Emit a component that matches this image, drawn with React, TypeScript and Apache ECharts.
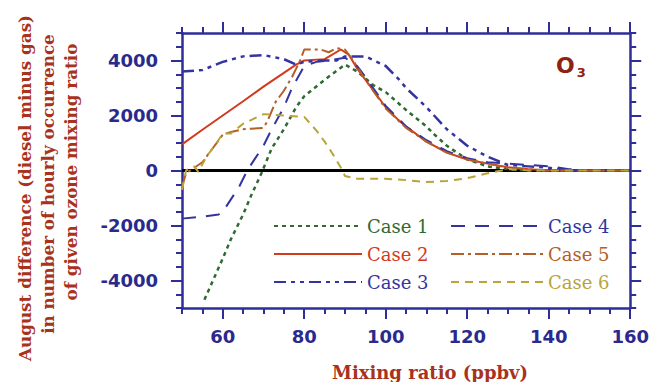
import React, { useEffect, useRef } from "react";
import * as echarts from "echarts";

const xRange = [50, 160];
const yRange = [-5000, 5000];
const xLabelValues = [60, 80, 100, 120, 140, 160];
const yLabelValues = [-4000, -2000, 0, 2000, 4000];

const caseNames = ["Case 1", "Case 2", "Case 3", "Case 4", "Case 5", "Case 6"];

const case1 = [[55.5,-4700],[57,-4200],[60,-3200],[62,-2500],[65,-1600],[67,-900],[69.5,-100],[72,800],[75,1500],[78,2300],[80,2700],[85,3300],[90,3850],[93,3600],[97,3100],[100,2850],[105,2200],[110,1600],[112,1300],[115,900],[120,400],[125,150],[130,50],[135,0],[160,0]];
const case2 = [[50,950],[55,1480],[60,2000],[65,2520],[70,3050],[75,3550],[78,3850],[80,4000],[85,4050],[89,4400],[91,4200],[93,3700],[95,3300],[98,2700],[100,2300],[103,1850],[105,1600],[110,1050],[115,650],[120,400],[125,250],[130,120],[135,50],[140,0],[160,0]];
const case3 = [[50,3600],[55,3650],[60,3950],[65,4150],[70,4200],[75,4050],[78,3850],[80,3950],[85,4000],[88,4000],[90,4150],[95,4150],[100,3800],[103,3350],[105,3000],[110,2300],[115,1500],[120,900],[125,500],[130,200],[135,150],[140,100],[145,0],[160,0]];
const case4 = [[50,-1750],[55,-1680],[59,-1600],[60,-1500],[62,-1050],[64,-600],[66,0],[68,450],[70,900],[72,1500],[75,2300],[77,3000],[80,3800],[83,3950],[86,4000],[90,4100],[93,3800],[95,3400],[100,2350],[105,1600],[110,1100],[115,700],[120,450],[125,300],[130,250],[135,200],[140,150],[145,50],[150,0],[160,0]];
const case5 = [[50,-600],[51,-100],[53,100],[55,300],[56,500],[58,900],[60,1300],[62,1400],[65,1500],[70,1550],[71,1800],[73,2500],[75,2900],[77,3400],[79,4000],[80,4400],[84,4400],[86,4300],[88,4450],[90,4400],[92,4000],[95,3300],[100,2250],[105,1550],[110,1050],[115,650],[120,400],[125,250],[130,100],[140,0],[160,0]];
const case6 = [[50,-700],[51,0],[53,150],[54,-50],[56,500],[58.5,1000],[60,1350],[62,1350],[65,1700],[70,2050],[75,2000],[80,1950],[83,1450],[85,1050],[87,600],[89,100],[90,-200],[93,-300],[100,-300],[105,-350],[110,-420],[115,-380],[120,-280],[125,-100],[130,50],[135,0],[160,0]];
const zeroLine = [[50, 0], [160, 0]];

const caseData = [case1, case2, case3, case4, case5, case6];
const caseColors = ["#2f6a33", "#d23a1e", "#3434a0", "#3434a0", "#b55e26", "#b8a43a"];
const caseDash: any[] = [[4, 4], "solid", [12, 5, 4, 5, 4, 5], [14, 10], [13, 4, 3, 4], [8, 6]];
const caseWidth = [2.5, 2, 2.5, 2, 2, 2];

const yTitleLines = ["August difference (diesel minus gas)", "in number of hourly occurrence", "of given ozone mixing ratio"];
const xTitle = "Mixing ratio (ppbv)";

const AXIS = "#2e2e98";
const LABEL = "#2a2a8e";
const TITLE = "#a8321c";

function ticksEvery(step: number, lo: number, hi: number) {
  const out: number[] = [];
  for (let v = lo; v <= hi + 1e-9; v += step) out.push(v);
  return out;
}

export default function App() {
  const ref = useRef<HTMLDivElement>(null);
  useEffect(() => {
    if (!ref.current) return;
    const chart = echarts.init(ref.current, null, { renderer: "svg" });
    const labelFont = { fontFamily: "DejaVu Sans", fontWeight: "bold" as const, fontSize: 18, color: LABEL };
    const plain = (v: number) => String(v);
    const minorX = ticksEvery(5, 50, 160);
    const minorY = ticksEvery(500, -5000, 5000);
    const mkX = (position: string, major: boolean, showLine: boolean, showLabel: boolean) => ({
      type: "value", position, min: xRange[0], max: xRange[1], interval: 10,
      axisLine: { show: showLine, onZero: false, lineStyle: { color: AXIS, width: 2.5 } },
      axisTick: { show: true, inside: false, length: major ? 11 : 6, customValues: major ? xLabelValues : minorX, lineStyle: { color: AXIS, width: 2 } },
      axisLabel: { show: showLabel, customValues: xLabelValues, margin: 19, formatter: plain, ...labelFont },
      splitLine: { show: false },
    });
    const mkY = (position: string, major: boolean, showLine: boolean, showLabel: boolean) => ({
      type: "value", position, min: yRange[0], max: yRange[1], interval: 500,
      axisLine: { show: showLine, onZero: false, lineStyle: { color: AXIS, width: 2.5 } },
      axisTick: { show: true, inside: false, length: major ? 11 : 6, customValues: major ? yLabelValues : minorY, lineStyle: { color: AXIS, width: 2 } },
      axisLabel: { show: showLabel, customValues: yLabelValues, margin: 24, formatter: plain, ...labelFont },
      splitLine: { show: false },
    });
    const series: any[] = [
      {
        type: "line", name: "zero", data: zeroLine, xAxisIndex: 0, yAxisIndex: 0,
        symbol: "none", silent: true, z: 1,
        lineStyle: { color: "#000", width: 3 },
      },
      ...caseNames.map((name, i) => ({
        type: "line", name, data: caseData[i], xAxisIndex: 0, yAxisIndex: 0,
        symbol: "none", showSymbol: false, z: 3,
        itemStyle: { color: caseColors[i] },
        lineStyle: { color: caseColors[i], width: caseWidth[i], type: caseDash[i] },
      })),
    ];
    const legendBase = {
      orient: "vertical", itemGap: 10, itemHeight: 14,
      itemStyle: { color: "transparent", borderWidth: 0, opacity: 0 },
      textStyle: { fontFamily: "DejaVu Serif", fontSize: 18, lineHeight: 18 },
      selectedMode: false,
    };
    const yTitleCenters = [188, 184, 172];
    chart.setOption({
      animation: false,
      backgroundColor: "#fff",
      grid: { left: 182, right: 18, top: 33, bottom: 74 },
      xAxis: [mkX("bottom", false, true, true), mkX("bottom", true, false, false), mkX("top", false, true, false), mkX("top", true, false, false)],
      yAxis: [mkY("left", false, true, true), mkY("left", true, false, false), mkY("right", false, true, false), mkY("right", true, false, false)],
      legend: [
        { ...legendBase, left: 268, top: 212, itemWidth: 88,
          data: caseNames.slice(0, 3).map((n, i) => ({ name: n, textStyle: { color: caseColors[i] } })) },
        { ...legendBase, left: 445, top: 212, itemWidth: 92,
          data: caseNames.slice(3).map((n, i) => ({ name: n, textStyle: { color: caseColors[i + 3] } })) },
      ],
      graphic: [
        {
          type: "text", x: 430, y: 372,
          style: { text: xTitle, fill: TITLE, font: "bold 18px 'DejaVu Serif'", textAlign: "center", textVerticalAlign: "middle" },
        },
        ...yTitleLines.map((t, i) => ({
          type: "text", x: 25 + i * 23, y: yTitleCenters[i], rotation: Math.PI / 2,
          style: { text: t, fill: TITLE, font: "bold 16.8px 'DejaVu Serif'", textAlign: "center", textVerticalAlign: "middle" },
        })),
        {
          type: "text", x: 556, y: 52,
          style: {
            text: "{a|O}{b|3}",
            rich: {
              a: { fontFamily: "DejaVu Sans", fontSize: 22, fontWeight: "bold", fill: "#8e2014", color: "#8e2014" },
              b: { fontFamily: "DejaVu Sans", fontSize: 13, fontWeight: "bold", fill: "#8e2014", color: "#8e2014", padding: [14, 0, 0, 2] },
            },
          },
        },
      ],
      series,
    });
    return () => chart.dispose();
  }, []);
  return <div ref={ref} style={{ width: 652, height: 382, position: "absolute", left: 0, top: 0 }} />;
}
